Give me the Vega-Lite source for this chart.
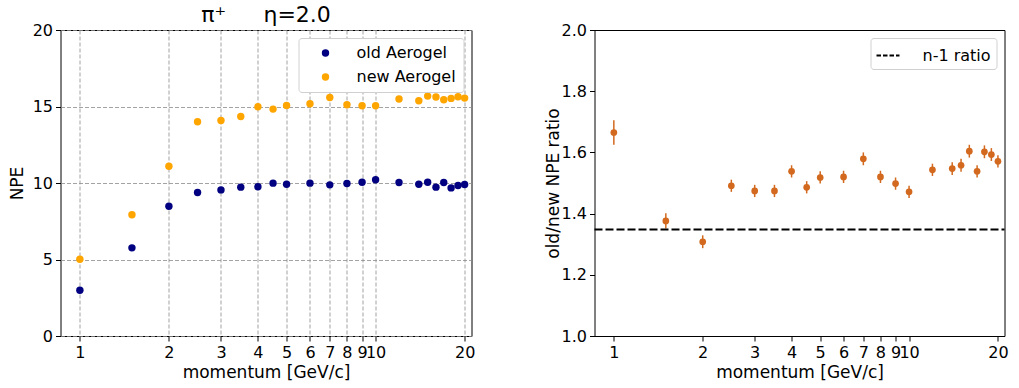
{
  "$schema": "https://vega.github.io/schema/vega-lite/v6.json",
  "padding": {"left": 7.5, "top": 3, "right": 0, "bottom": 0},
  "background": "white",
  "datasets": {
    "npe": [
      {"p": 1, "sample": "old Aerogel", "npe": 2.99},
      {"p": 1.5, "sample": "old Aerogel", "npe": 5.76},
      {"p": 2, "sample": "old Aerogel", "npe": 8.48},
      {"p": 2.5, "sample": "old Aerogel", "npe": 9.38},
      {"p": 3, "sample": "old Aerogel", "npe": 9.55},
      {"p": 3.5, "sample": "old Aerogel", "npe": 9.73},
      {"p": 4, "sample": "old Aerogel", "npe": 9.75},
      {"p": 4.5, "sample": "old Aerogel", "npe": 9.99},
      {"p": 5, "sample": "old Aerogel", "npe": 9.92},
      {"p": 6, "sample": "old Aerogel", "npe": 9.99},
      {"p": 7, "sample": "old Aerogel", "npe": 9.88},
      {"p": 8, "sample": "old Aerogel", "npe": 9.97},
      {"p": 9, "sample": "old Aerogel", "npe": 10.05},
      {"p": 10, "sample": "old Aerogel", "npe": 10.21},
      {"p": 12, "sample": "old Aerogel", "npe": 10.03},
      {"p": 14, "sample": "old Aerogel", "npe": 9.92},
      {"p": 15, "sample": "old Aerogel", "npe": 10.05},
      {"p": 16, "sample": "old Aerogel", "npe": 9.73},
      {"p": 17, "sample": "old Aerogel", "npe": 10.03},
      {"p": 18, "sample": "old Aerogel", "npe": 9.68},
      {"p": 19, "sample": "old Aerogel", "npe": 9.84},
      {"p": 20, "sample": "old Aerogel", "npe": 9.9},
      {"p": 1, "sample": "new Aerogel", "npe": 5.02},
      {"p": 1.5, "sample": "new Aerogel", "npe": 7.92},
      {"p": 2, "sample": "new Aerogel", "npe": 11.1},
      {"p": 2.5, "sample": "new Aerogel", "npe": 14.0},
      {"p": 3, "sample": "new Aerogel", "npe": 14.09},
      {"p": 3.5, "sample": "new Aerogel", "npe": 14.35},
      {"p": 4, "sample": "new Aerogel", "npe": 14.98},
      {"p": 4.5, "sample": "new Aerogel", "npe": 14.83},
      {"p": 5, "sample": "new Aerogel", "npe": 15.07},
      {"p": 6, "sample": "new Aerogel", "npe": 15.18},
      {"p": 7, "sample": "new Aerogel", "npe": 15.59},
      {"p": 8, "sample": "new Aerogel", "npe": 15.11},
      {"p": 9, "sample": "new Aerogel", "npe": 15.05},
      {"p": 10, "sample": "new Aerogel", "npe": 15.05},
      {"p": 12, "sample": "new Aerogel", "npe": 15.49},
      {"p": 14, "sample": "new Aerogel", "npe": 15.38},
      {"p": 15, "sample": "new Aerogel", "npe": 15.68},
      {"p": 16, "sample": "new Aerogel", "npe": 15.62},
      {"p": 17, "sample": "new Aerogel", "npe": 15.44},
      {"p": 18, "sample": "new Aerogel", "npe": 15.53},
      {"p": 19, "sample": "new Aerogel", "npe": 15.64},
      {"p": 20, "sample": "new Aerogel", "npe": 15.55}
    ],
    "ratio": [
      {"p": 1, "r": 1.665, "err": 0.04},
      {"p": 1.5, "r": 1.376, "err": 0.025},
      {"p": 2, "r": 1.308, "err": 0.021},
      {"p": 2.5, "r": 1.491, "err": 0.02},
      {"p": 3, "r": 1.474, "err": 0.02},
      {"p": 3.5, "r": 1.474, "err": 0.02},
      {"p": 4, "r": 1.538, "err": 0.02},
      {"p": 4.5, "r": 1.486, "err": 0.02},
      {"p": 5, "r": 1.518, "err": 0.02},
      {"p": 6, "r": 1.52, "err": 0.02},
      {"p": 7, "r": 1.579, "err": 0.021},
      {"p": 8, "r": 1.52, "err": 0.02},
      {"p": 9, "r": 1.498, "err": 0.02},
      {"p": 10, "r": 1.471, "err": 0.02},
      {"p": 12, "r": 1.543, "err": 0.02},
      {"p": 14, "r": 1.547, "err": 0.021},
      {"p": 15, "r": 1.558, "err": 0.021},
      {"p": 16, "r": 1.604, "err": 0.021},
      {"p": 17, "r": 1.538, "err": 0.02},
      {"p": 18, "r": 1.602, "err": 0.021},
      {"p": 19, "r": 1.593, "err": 0.021},
      {"p": 20, "r": 1.571, "err": 0.02}
    ],
    "reference": [
      {"label": "n-1 ratio", "ratio": 1.348}
    ]
  },
  "config": {
    "font": "DejaVu Sans",
    "view": {"stroke": "black", "strokeWidth": 1},
    "axis": {
      "domain": false,
      "labelFontSize": 16,
      "labelColor": "black",
      "titleFontSize": 17,
      "titleFontWeight": "normal",
      "titleColor": "black",
      "tickColor": "black",
      "tickSize": 5,
      "tickWidth": 1,
      "labelPadding": 3,
      "labelOverlap": false,
      "labelFlush": false
    },
    "legend": {
      "labelFontSize": 16,
      "labelColor": "black",
      "fillColor": "white",
      "strokeColor": "#d0d0d0",
      "cornerRadius": 3
    }
  },
  "resolve": {
    "scale": {"x": "independent", "y": "independent", "color": "independent"},
    "legend": {"color": "independent"}
  },
  "spacing": 68,
  "hconcat": [
    {
      "width": 411,
      "height": 306,
      "title": {
        "text": "π⁺\u2003\u2002\u2009η=2.0",
        "fontSize": 22,
        "fontWeight": "normal",
        "offset": -5,
        "color": "black"
      },
      "data": {"name": "npe"},
      "mark": {"type": "point", "filled": true, "size": 55, "opacity": 1},
      "encoding": {
        "x": {
          "field": "p", "type": "quantitative",
          "scale": {"type": "log", "domain": [0.86, 21.1], "nice": false},
          "axis": {
            "title": "momentum [GeV/c]",
            "values": [1, 2, 3, 4, 5, 6, 7, 8, 9, 10, 20],
            "format": "d",
            "grid": true, "gridColor": "#8c8c8c", "gridDash": [4, 2], "gridWidth": 0.8,
            "titlePadding": 4
          }
        },
        "y": {
          "field": "npe", "type": "quantitative",
          "scale": {"domain": [0, 20], "nice": false},
          "axis": {
            "title": "NPE",
            "values": [0, 5, 10, 15, 20],
            "grid": true, "gridColor": "#8c8c8c", "gridDash": [4, 2], "gridWidth": 0.8,
            "titlePadding": 6
          }
        },
        "color": {
          "field": "sample", "type": "nominal",
          "scale": {"domain": ["old Aerogel", "new Aerogel"], "range": ["#000080", "#ffa500"]},
          "legend": {
            "title": null,
            "orient": "top-right",
            "offset": 8,
            "padding": 7,
            "symbolOffset": 12,
            "labelOffset": 23,
            "rowPadding": 8,
            "symbolType": "circle",
            "symbolSize": 55,
            "symbolStrokeWidth": 0,
            "symbolOpacity": 1
          }
        }
      }
    },
    {
      "width": 410,
      "height": 306,
      "encoding": {
        "x": {
          "field": "p", "type": "quantitative",
          "scale": {"type": "log", "domain": [0.86, 21.05], "nice": false},
          "axis": {
            "title": "momentum [GeV/c]",
            "values": [1, 2, 3, 4, 5, 6, 7, 8, 9, 10, 20],
            "format": "d",
            "grid": false,
            "titlePadding": 4
          }
        },
        "y": {
          "field": "r", "type": "quantitative",
          "scale": {"domain": [1.0, 2.0], "nice": false},
          "axis": {
            "title": "old/new NPE ratio",
            "values": [1.0, 1.2, 1.4, 1.6, 1.8, 2.0],
            "format": ".1f",
            "grid": false,
            "titlePadding": -1
          }
        }
      },
      "layer": [
        {
          "data": {"name": "ratio"},
          "mark": {"type": "errorbar", "color": "#d2691e", "thickness": 1.5},
          "encoding": {
            "yError": {"field": "err"}
          }
        },
        {
          "data": {"name": "ratio"},
          "mark": {"type": "point", "filled": true, "size": 45, "opacity": 1, "color": "#d2691e"}
        },
        {
          "data": {"name": "reference"},
          "mark": {"type": "rule", "strokeDash": [8, 3], "strokeWidth": 2},
          "encoding": {
            "x": {"value": 0},
            "x2": {"value": 410},
            "y": {"field": "ratio", "type": "quantitative"},
            "color": {
              "field": "label", "type": "nominal",
              "scale": {"range": ["black"]},
              "legend": {
                "title": null,
                "orient": "top-right",
                "offset": 8,
                "padding": 5,
                "labelOffset": 22,
                "symbolType": "stroke",
                "symbolSize": 529,
                "symbolStrokeWidth": 2,
                "symbolDash": [4.5, 2]
              }
            }
          }
        }
      ]
    }
  ]
}
